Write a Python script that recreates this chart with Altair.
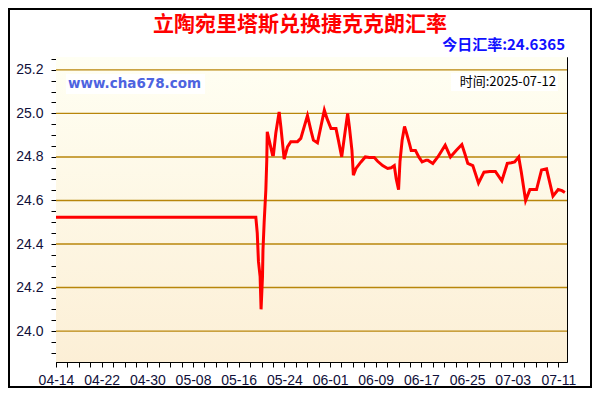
import altair as alt
import pandas as pd
from datetime import date, timedelta

# ---- data ----
dates = [
    "2025-04-14T00:00", "2025-05-19T00:00", "2025-05-19T06:00", "2025-05-19T11:00",
    "2025-05-19T18:00", "2025-05-19T22:00", "2025-05-20T04:00", "2025-05-20T06:00",
    "2025-05-20T11:00", "2025-05-20T18:00", "2025-05-20T22:00", "2025-05-21T00:00",
    "2025-05-21T08:00", "2025-05-21T22:00", "2025-05-22T02:00", "2025-05-22T12:00",
    "2025-05-23T02:00", "2025-05-23T09:00", "2025-05-23T23:00", "2025-05-24T13:00",
    "2025-05-25T03:00", "2025-05-26T07:00", "2025-05-26T21:00", "2025-05-28T01:00",
    "2025-05-28T16:00", "2025-05-29T02:00", "2025-05-29T19:00", "2025-05-31T00:00",
    "2025-05-31T11:00", "2025-06-01T04:00", "2025-06-02T01:00", "2025-06-02T11:00",
    "2025-06-03T01:00", "2025-06-03T12:00", "2025-06-04T02:00", "2025-06-04T09:00",
    "2025-06-04T20:00", "2025-06-05T02:00", "2025-06-05T13:00", "2025-06-06T10:00",
    "2025-06-07T04:00", "2025-06-07T21:00", "2025-06-08T18:00", "2025-06-09T08:00",
    "2025-06-10T05:00", "2025-06-11T02:00", "2025-06-11T17:00", "2025-06-12T06:00",
    "2025-06-12T14:00", "2025-06-13T00:00", "2025-06-13T06:00", "2025-06-13T15:00",
    "2025-06-14T01:00", "2025-06-14T08:00", "2025-06-14T22:00", "2025-06-15T05:00",
    "2025-06-15T23:00", "2025-06-16T13:00", "2025-06-17T03:00", "2025-06-17T20:00",
    "2025-06-18T03:00", "2025-06-19T00:00", "2025-06-19T21:00", "2025-06-21T04:00",
    "2025-06-22T02:00", "2025-06-23T02:00", "2025-06-24T02:00", "2025-06-24T16:00",
    "2025-06-25T03:00", "2025-06-26T00:00", "2025-06-27T00:00", "2025-06-27T23:00",
    "2025-06-28T23:00", "2025-06-29T23:00", "2025-07-01T02:00", "2025-07-02T01:00",
    "2025-07-02T18:00", "2025-07-03T08:00", "2025-07-04T01:00", "2025-07-04T12:00",
    "2025-07-05T06:00", "2025-07-06T00:00", "2025-07-07T04:00", "2025-07-08T01:00",
    "2025-07-08T22:00", "2025-07-10T01:00", "2025-07-10T23:00", "2025-07-11T15:00",
    "2025-07-12T03:00",
]
rates = [
    24.523, 24.523, 24.45, 24.32,
    24.25, 24.10, 24.25, 24.37,
    24.50, 24.647, 24.785, 24.915,
    24.877, 24.81, 24.81, 24.91,
    25.007, 24.94, 24.79, 24.846,
    24.87, 24.87, 24.885, 24.99,
    24.92, 24.877, 24.865, 25.015,
    24.977, 24.93, 24.93, 24.877,
    24.80, 24.89, 25.0, 24.94,
    24.83, 24.716, 24.747, 24.777,
    24.80, 24.797, 24.797, 24.78,
    24.76, 24.747, 24.75, 24.76,
    24.70, 24.65, 24.78, 24.877,
    24.94, 24.915, 24.86, 24.83,
    24.83, 24.80, 24.777, 24.785,
    24.785, 24.77, 24.80, 24.854,
    24.80, 24.83, 24.857, 24.81,
    24.77, 24.76, 24.68, 24.73,
    24.733, 24.733, 24.69, 24.77,
    24.773, 24.777, 24.80, 24.73,
    24.60, 24.65, 24.65, 24.74,
    24.745, 24.62, 24.65, 24.645,
    24.6365,
]
grid_levels = [24.0, 24.2, 24.4, 24.6, 24.8, 25.0, 25.2]

title_text = "立陶宛里塔斯兑换捷克克朗汇率"
today_rate = "24.6365"
update_date = "2025-07-12"
site_text = "www.cha678.com"

df = pd.DataFrame({"date": dates, "rate": rates})
grid_df = pd.DataFrame({"level": grid_levels})

# ---- layout ----
W, H = 511, 305
PAD = {"left": 48, "top": 49, "right": 25, "bottom": 26}

x_scale = alt.Scale(domain=[alt.DateTime(year=2025, month=4, date=14),
                            alt.DateTime(year=2025, month=7, date=12, hours=12)])
y_scale = alt.Scale(domain=[23.858, 25.259], nice=False, zero=False)

start = date(2025, 4, 14)
x_tick_vals = []
for i in range(45):
    d = start + timedelta(days=2 * i)
    x_tick_vals.append(alt.DateTime(year=d.year, month=d.month, date=d.day))
y_tick_vals = [round(23.9 + 0.05 * i, 2) for i in range(28)]

LABEL_FONT = "Liberation Sans"
LABEL_COLOR = "#10103a"

x_label_expr = ("round((datum.value - datetime(2025, 3, 14)) / 86400000) % 8 == 0"
                " ? timeFormat(datum.value, '%m-%d') : ''")
y_label_expr = ("abs(datum.value * 5 - round(datum.value * 5)) < 0.001"
                " ? format(datum.value, '.1f') : ''")

bg = alt.Chart(pd.DataFrame({"a": [0]})).mark_rect(
    color=alt.LinearGradient(
        gradient="linear",
        stops=[alt.GradientStop(color="#fffff3", offset=0),
               alt.GradientStop(color="#fcefd6", offset=1)],
        x1=0, x2=0, y1=0, y2=1,
    )
).encode(x=alt.value(0), x2=alt.value(W), y=alt.value(0), y2=alt.value(H))

grid = alt.Chart(grid_df).mark_rule(color="#b8860b", strokeWidth=1.4).encode(
    y=alt.Y("level:Q", scale=y_scale, axis=None),
    x=alt.value(0), x2=alt.value(W),
)

line = alt.Chart(df).mark_line(color="#ff0000", strokeWidth=3, strokeJoin="miter").encode(
    x=alt.X("date:T", scale=x_scale, axis=alt.Axis(
        orient="bottom", values=x_tick_vals, labelExpr=x_label_expr, title=None,
        labelAngle=0, labelFont=LABEL_FONT, labelFontSize=14, labelColor=LABEL_COLOR,
        tickColor="black", tickSize=5, labelPadding=6, domainColor="black",
        grid=False, labelOverlap=False, labelFlush=False)),
    y=alt.Y("rate:Q", scale=y_scale, axis=alt.Axis(
        orient="left", values=y_tick_vals, labelExpr=y_label_expr, title=None,
        labelFont=LABEL_FONT, labelFontSize=14, labelColor=LABEL_COLOR,
        tickColor="black", tickSize=5, labelPadding=8, domainColor="black",
        grid=False, labelOverlap=False, labelFlush=False)),
)

ghost = alt.Chart(df).mark_line(opacity=0).encode(
    x=alt.X("date:T", scale=x_scale, axis=alt.Axis(
        orient="top", values=x_tick_vals, labels=False, title=None, domain=False,
        offset=-5, tickSize=5, tickColor="black", grid=False)),
    y=alt.Y("rate:Q", scale=y_scale, axis=alt.Axis(
        orient="right", values=y_tick_vals, labels=False, title=None, domain=False,
        offset=-5, tickSize=5, tickColor="black", grid=False)),
)

one = pd.DataFrame({"a": [0]})

title = alt.Chart(one).mark_text(
    text=title_text, font="Noto Sans CJK SC", fontSize=21, fontWeight="bold",
    color="#ff0000", align="center", baseline="middle",
).encode(x=alt.value(244), y=alt.value(-32))

rate_txt = alt.Chart(one).mark_text(
    text="今日汇率:" + today_rate, font="Noto Sans CJK SC", fontSize=15, fontWeight="bold",
    color="#1010ff", align="right", baseline="middle",
).encode(x=alt.value(509), y=alt.value(-12))

site_box = alt.Chart(one).mark_rect(color="white").encode(
    x=alt.value(10), x2=alt.value(149), y=alt.value(17), y2=alt.value(37))
site = alt.Chart(one).mark_text(
    text=site_text, font="DejaVu Sans", fontSize=13.5, fontWeight="bold",
    color="#4d63e0", align="left", baseline="middle",
).encode(x=alt.value(12), y=alt.value(27))

time_box = alt.Chart(one).mark_rect(color="white").encode(
    x=alt.value(395), x2=alt.value(502), y=alt.value(16), y2=alt.value(34))
time_txt = alt.Chart(one).mark_text(
    text="时间:" + update_date, font="Noto Sans CJK SC", fontSize=13,
    color="#000000", align="right", baseline="middle",
).encode(x=alt.value(500), y=alt.value(25))

frame = alt.Chart(one).mark_rect(filled=False, stroke="black", strokeWidth=2).encode(
    x=alt.value(-PAD["left"] + 1), x2=alt.value(W + PAD["right"] - 1),
    y=alt.value(-PAD["top"] + 1), y2=alt.value(H + PAD["bottom"] - 1),
)

chart = alt.layer(
    bg, grid, line, ghost, site_box, site, time_box, time_txt, title, rate_txt, frame
).resolve_scale(x="independent", y="independent").properties(
    width=W, height=H, padding=PAD, autosize="none", background="white",
).configure_view(stroke="black", strokeWidth=1)

chart.save("out.html", embed_options={"renderer": "svg", "actions": False})
